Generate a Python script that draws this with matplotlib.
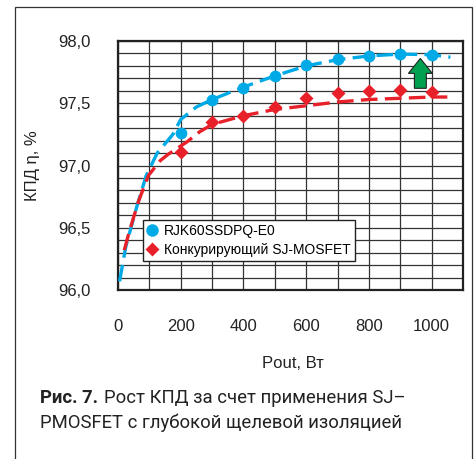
import matplotlib
matplotlib.use("Agg")
import matplotlib.pyplot as plt
from matplotlib.patches import Rectangle
from matplotlib.lines import Line2D
from matplotlib.ticker import MultipleLocator
from matplotlib import font_manager

# ---- data ----
power = [200, 300, 400, 500, 600, 700, 800, 900, 1000]
eff_rjk = [97.26, 97.53, 97.62, 97.72, 97.81, 97.855, 97.88, 97.895, 97.89]
eff_rival = [97.11, 97.35, 97.40, 97.47, 97.54, 97.58, 97.60, 97.61, 97.59]

# dashed trend lines
fit_rjk_x = [5, 25, 60, 90, 125, 175, 200, 250, 300, 400, 500, 600, 700, 800, 900, 1000, 1060]
fit_rjk_y = [96.07, 96.35, 96.67, 96.92, 97.10, 97.25, 97.37, 97.47, 97.53, 97.63, 97.72,
             97.80, 97.85, 97.88, 97.895, 97.89, 97.87]
fit_rival_x = [20, 35, 65, 97, 135, 160, 220, 260, 300, 400, 500, 600, 700, 800, 900, 1000, 1050]
fit_rival_y = [96.32, 96.46, 96.71, 96.92, 97.04, 97.09, 97.19, 97.27, 97.33, 97.40, 97.45,
               97.48, 97.51, 97.53, 97.54, 97.55, 97.55]

x_ticks = [0, 200, 400, 600, 800, 1000]
y_ticks = [96.0, 96.5, 97.0, 97.5, 98.0]
y_ticklabels = ["96,0", "96,5", "97,0", "97,5", "98,0"]

arrow_x, arrow_base, arrow_tip = 964, 97.62, 97.86

BLUE = "#00aae6"
RED = "#e8202a"
GREEN = "#00a04e"
INK = "#222222"

names = {f.name for f in font_manager.fontManager.ttflist}
CAP_FONT = "Liberation Sans Narrow" if "Liberation Sans Narrow" in names else "Roboto"
plt.rcParams["font.family"] = ["Liberation Sans", "DejaVu Sans"]

fig = plt.figure(figsize=(4.74, 4.59), dpi=100)
fig.patches.append(Rectangle((15 / 474, -0.05), (471.5 - 15) / 474, 1.05 - 7 / 459,
                             transform=fig.transFigure, fill=False, ec="#333333", lw=0.9))

ax = fig.add_axes([118 / 474, 1 - 290 / 459, 345 / 474, 249 / 459])
ax.set_xlim(0, 1100)
ax.set_ylim(96.0, 98.0)
ax.xaxis.set_minor_locator(MultipleLocator(100))
ax.yaxis.set_minor_locator(MultipleLocator(0.1))
ax.set_xticks(x_ticks)
ax.set_yticks(y_ticks)
ax.set_yticklabels(y_ticklabels)
ax.grid(which="both", color="#333333", lw=0.9)
ax.set_axisbelow(True)
ax.tick_params(which="both", length=0, labelsize=12, colors=INK)
ax.tick_params(axis="x", pad=21)
ax.tick_params(axis="y", pad=20)
for s in ax.spines.values():
    s.set_linewidth(1.6)
    s.set_color(INK)

ax.plot(fit_rjk_x, fit_rjk_y, color=BLUE, lw=2.4, dashes=(5, 2.2), zorder=3)
ax.plot(fit_rival_x, fit_rival_y, color=RED, lw=2.4, dashes=(5, 2.2), zorder=3)
ax.plot(power, eff_rjk, "o", color=BLUE, ms=8.5, mec="none", zorder=4)
ax.plot(power, eff_rival, "D", color=RED, ms=7, mec="none", zorder=4)

ax.arrow(arrow_x, arrow_base, 0, arrow_tip - arrow_base, width=38, head_width=76,
         head_length=0.12, length_includes_head=True, fc=GREEN, ec=INK, lw=0.8, zorder=5)

handles = [Line2D([], [], ls="none", marker="o", color=BLUE, ms=9, mec="none"),
           Line2D([], [], ls="none", marker="D", color=RED, ms=7.5, mec="none")]
leg = ax.legend(handles, ["RJK60SSDPQ-E0", "Конкурирующий SJ-MOSFET"],
                loc="upper left", bbox_to_anchor=(0.072, 0.281), fontsize=10,
                handlelength=0.8, handletextpad=0.5, borderpad=0.25, labelspacing=0.4,
                borderaxespad=0, fancybox=False, framealpha=1, edgecolor=INK)
leg.get_frame().set_linewidth(1.0)

ax.set_ylabel("КПД η, %", fontsize=12, labelpad=13, color=INK)
fig.text(293 / 474, 1 - 363 / 459, "Pout, Вт", ha="center", va="center",
         fontsize=12, color=INK)

t1 = fig.text(40 / 474, 1 - 398 / 459, "Рис. 7.", ha="left", va="center",
              fontsize=13.3, fontweight="bold", family=CAP_FONT, color=INK)
fig.canvas.draw()
bb = t1.get_window_extent()
fig.text((bb.x1 + 6) / 474, 1 - 398 / 459, "Рост КПД за счет применения SJ–",
         ha="left", va="center", fontsize=13.3, family=CAP_FONT, color=INK)
fig.text(40 / 474, 1 - 423 / 459, "PMOSFET с глубокой щелевой изоляцией",
         ha="left", va="center", fontsize=13.3, family=CAP_FONT, color=INK)

fig.savefig("out.png", dpi=100)
